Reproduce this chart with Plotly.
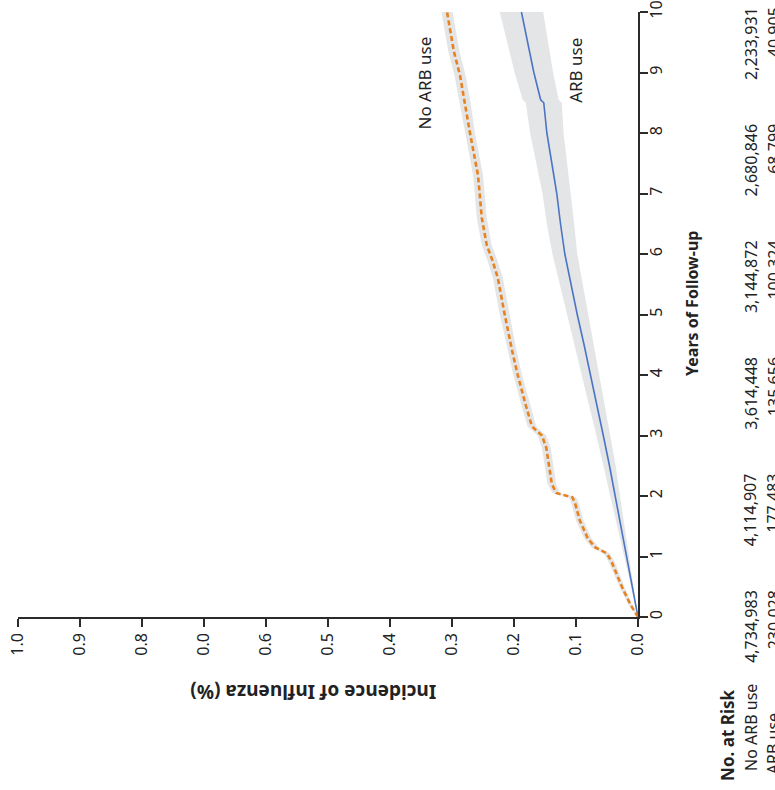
import plotly.graph_objects as go

# ---------------- data ----------------
years_noarb = [0, 0.2, 0.5, 0.9, 1.05, 1.15, 1.3, 1.6, 1.9, 1.98, 2.05, 2.2, 2.8, 3.0, 3.15, 3.5,
               4.0, 4.4, 5.0, 5.6, 5.9, 6.15, 6.6, 7.3, 8.0, 8.5, 8.95, 9.35, 9.7, 10]
inc_noarb = [0, 0.012, 0.026, 0.042, 0.050, 0.069, 0.081, 0.094, 0.102, 0.106, 0.132, 0.139, 0.148,
             0.155, 0.171, 0.181, 0.194, 0.203, 0.215, 0.226, 0.235, 0.244, 0.252, 0.258, 0.271,
             0.279, 0.287, 0.297, 0.303, 0.308]
lo_noarb = [0, 0.009, 0.022, 0.037, 0.045, 0.063, 0.075, 0.088, 0.096, 0.100, 0.126, 0.132, 0.141,
            0.148, 0.164, 0.174, 0.187, 0.196, 0.207, 0.218, 0.227, 0.236, 0.244, 0.250, 0.263,
            0.270, 0.278, 0.288, 0.294, 0.299]
hi_noarb = [0, 0.015, 0.030, 0.047, 0.055, 0.075, 0.087, 0.100, 0.108, 0.112, 0.138, 0.146, 0.155,
            0.162, 0.178, 0.188, 0.201, 0.210, 0.223, 0.234, 0.243, 0.252, 0.260, 0.266, 0.279,
            0.288, 0.296, 0.306, 0.312, 0.317]

years_arb = [0, 0.5, 1, 1.5, 2, 2.5, 3, 3.5, 4, 4.5, 5, 5.5, 6, 6.5, 7, 7.5, 8, 8.5, 8.55, 9, 9.5, 10]
inc_arb = [0, 0.009, 0.018, 0.028, 0.037, 0.046, 0.056, 0.066, 0.077, 0.087, 0.098, 0.108, 0.118,
           0.125, 0.131, 0.139, 0.147, 0.152, 0.157, 0.168, 0.178, 0.188]
lo_arb = [0, 0.007, 0.014, 0.022, 0.029, 0.036, 0.045, 0.053, 0.063, 0.071, 0.081, 0.089, 0.098,
          0.103, 0.108, 0.114, 0.120, 0.123, 0.128, 0.137, 0.145, 0.153]
hi_arb = [0, 0.011, 0.022, 0.034, 0.045, 0.056, 0.067, 0.079, 0.091, 0.103, 0.115, 0.127, 0.138,
          0.147, 0.154, 0.164, 0.174, 0.181, 0.186, 0.199, 0.211, 0.223]

inc_ticks = [1.0, 0.9, 0.8, 0.7, 0.6, 0.5, 0.4, 0.3, 0.2, 0.1, 0.0]
inc_tick_labels = ["1.0", "0.9", "0.8", "0.0", "0.6", "0.5", "0.4", "0.3", "0.2", "0.1", "0.0"]
year_ticks = [0, 1, 2, 3, 4, 5, 6, 7, 8, 9, 10]

risk_years = [0, 2, 4, 6, 8, 10]
risk_noarb = ["4,734,983", "4,114,907", "3,614,448", "3,144,872", "2,680,846", "2,233,931"]
risk_arb = ["230,028", "177,483", "135,656", "100,324", "68,799", "40,905"]

# ---------------- style ----------------
FONT = "Noto Sans"
ORANGE = "#E8821E"
BLUE = "#4A74C4"
BAND = "#E4E5E7"
AX = "#2b2b2b"
TXT = "#222"

# linear placement of the at-risk table rows (paper units per year)
TABLE_Y0 = -0.0149
TABLE_DY = 0.09636
COL_HEAD, COL_ROW1, COL_ROW2 = 1.145, 1.182, 1.219


def pad_left(s, target):
    """pad a number string with figure / punctuation spaces so columns align at their end"""
    digits = sum(c.isdigit() for c in target) - sum(c.isdigit() for c in s)
    commas = target.count(",") - s.count(",")
    return "\u2007" * digits + "\u2008" * commas + s


fig = go.Figure()

# confidence bands
fig.add_trace(go.Scatter(x=hi_arb + lo_arb[::-1], y=years_arb + years_arb[::-1], fill="toself",
                         fillcolor=BAND, line=dict(width=0), mode="lines", hoverinfo="skip",
                         showlegend=False))
fig.add_trace(go.Scatter(x=hi_noarb + lo_noarb[::-1], y=years_noarb + years_noarb[::-1], fill="toself",
                         fillcolor=BAND, line=dict(width=0), mode="lines", hoverinfo="skip",
                         showlegend=False))
# curves
fig.add_trace(go.Scatter(x=inc_arb, y=years_arb, mode="lines",
                         line=dict(color=BLUE, width=1.6), showlegend=False))
fig.add_trace(go.Scatter(x=inc_noarb, y=years_noarb, mode="lines",
                         line=dict(color=ORANGE, width=2.6, dash="5px,3px"), showlegend=False))

fig.update_layout(
    width=775, height=790,
    margin=dict(l=18, r=137, t=12, b=173, autoexpand=False),
    paper_bgcolor="white", plot_bgcolor="white",
    font=dict(family=FONT, color=TXT, size=16),
    showlegend=False,
    xaxis=dict(range=[1.0, 0.0], tickvals=inc_ticks, ticktext=inc_tick_labels, tickangle=-90,
               showgrid=False, zeroline=False, showline=True, linecolor=AX, linewidth=1.5,
               ticks="outside", ticklen=8, tickwidth=1.5, tickcolor=AX, automargin=False,
               ticklabeloverflow="allow",
               tickfont=dict(family=FONT, size=16, color=TXT)),
    yaxis=dict(range=[0, 10], side="right", tickvals=year_ticks, tickangle=-90,
               showgrid=False, zeroline=False, showline=True, linecolor=AX, linewidth=1.5,
               ticks="outside", ticklen=8, tickwidth=1.5, tickcolor=AX, automargin=False,
               ticklabelstandoff=-5, ticklabeloverflow="allow",
               tickfont=dict(family=FONT, size=16, color=TXT)),
)

ann = []
# axis titles
ann.append(dict(text="<b>Incidence of Influenza (%)</b>", textangle=180, xref="paper", yref="paper",
                x=0.476, y=-0.124, xanchor="center", yanchor="middle", showarrow=False,
                font=dict(size=19, family=FONT, color=TXT)))
ann.append(dict(text="<b>Years of Follow-up</b>", textangle=-90, xref="paper", yref="paper",
                x=1.087, y=0.519, xanchor="center", yanchor="middle", showarrow=False,
                font=dict(size=16, family=FONT, color=TXT)))
# curve labels
ann.append(dict(text="No ARB use", textangle=-90, xref="x", yref="y", x=0.344, y=8.83,
                xanchor="center", yanchor="middle", showarrow=False,
                font=dict(size=17, family=FONT, color=TXT)))
ann.append(dict(text="ARB use", textangle=-90, xref="x", yref="y", x=0.102, y=9.04,
                xanchor="center", yanchor="middle", showarrow=False,
                font=dict(size=17, family=FONT, color=TXT)))
# at-risk table
ann.append(dict(text="<b>No. at Risk</b>", textangle=-90, xref="paper", yref="paper",
                x=COL_HEAD, y=-0.195, xanchor="center", yanchor="middle", showarrow=False,
                font=dict(size=17, family=FONT, color=TXT)))
ann.append(dict(text="No ARB use", textangle=-90, xref="paper", yref="paper",
                x=COL_ROW1, y=-0.182, xanchor="center", yanchor="middle", showarrow=False,
                font=dict(size=16, family=FONT, color=TXT)))
ann.append(dict(text="ARB use", textangle=-90, xref="paper", yref="paper",
                x=COL_ROW2, y=-0.209, xanchor="center", yanchor="middle", showarrow=False,
                font=dict(size=16, family=FONT, color=TXT)))
for yr, a, b in zip(risk_years, risk_noarb, risk_arb):
    ty = TABLE_Y0 + TABLE_DY * yr
    ann.append(dict(text=a, textangle=-90, xref="paper", yref="paper", x=COL_ROW1, y=ty,
                    xanchor="center", yanchor="middle", showarrow=False,
                    font=dict(size=16, family=FONT, color=TXT)))
    ann.append(dict(text=pad_left(b, a), textangle=-90, xref="paper", yref="paper", x=COL_ROW2, y=ty,
                    xanchor="center", yanchor="middle", showarrow=False,
                    font=dict(size=16, family=FONT, color=TXT)))
fig.update_layout(annotations=ann)

# place the figure at the page origin (no default body margin), no mode bar
fig.write_html("out.html", config={"displayModeBar": False},
               post_script="document.body.style.margin='0px';document.documentElement.style.margin='0px';")
